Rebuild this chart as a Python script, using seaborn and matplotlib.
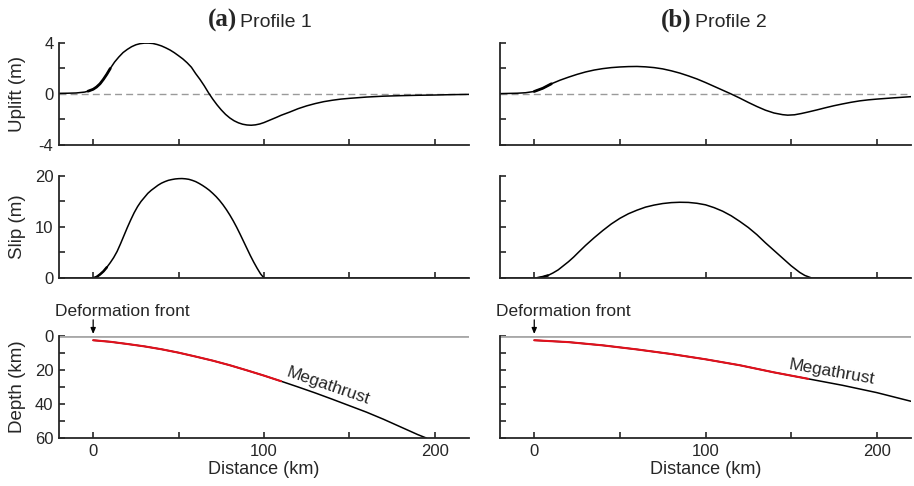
import numpy as np
import matplotlib
matplotlib.use("Agg")
import matplotlib.pyplot as plt
import seaborn as sns

# profile 1 (a)
up1_km = [-20, -15, -10, -5, -3, 0, 2, 4, 6, 8, 10, 12.5, 15, 17.5, 20, 22.5, 25, 27.5, 30, 32.5, 35,
          37.5, 40, 42.5, 45, 47.5, 50, 52.5, 55, 57.5, 60, 62.5, 65, 67.5, 70, 72.5, 75, 77.5, 80,
          82.5, 85, 87.5, 90, 92.5, 95, 97.5, 100, 102.5, 105, 107.5, 110, 115, 120, 125, 130, 135,
          140, 145, 150, 160, 170, 180, 190, 200, 210, 220]
up1_m = [0.05, 0.06, 0.08, 0.15, 0.22, 0.37, 0.55, 0.8, 1.15, 1.55, 2.0, 2.5, 2.9, 3.25, 3.5, 3.71,
         3.86, 3.95, 3.99, 3.99, 3.96, 3.88, 3.77, 3.62, 3.45, 3.24, 3.0, 2.75, 2.45, 2.1, 1.6, 1.15,
         0.65, 0.1, -0.4, -0.85, -1.25, -1.6, -1.88, -2.1, -2.26, -2.37, -2.43, -2.45, -2.42, -2.35,
         -2.24, -2.1, -1.96, -1.82, -1.67, -1.42, -1.15, -0.93, -0.75, -0.6, -0.49, -0.4, -0.34,
         -0.24, -0.17, -0.13, -0.1, -0.08, -0.05, -0.03]
slip1_km = [-20, 0.4, 2, 4, 6, 8, 10, 12, 14, 16, 18, 20, 22, 24, 26, 28, 30, 32, 34, 36, 38, 40, 42,
            44, 46, 48, 50, 52, 54, 56, 58, 60, 62, 64, 66, 68, 70, 72, 74, 76, 78, 80, 82, 84, 86,
            88, 90, 92, 94, 96, 98, 100, 220]
slip1_m = [0, 0, 0.2, 0.7, 1.3, 2.1, 3.0, 4.0, 5.2, 6.7, 8.3, 9.9, 11.4, 12.8, 14.0, 15.0, 15.8, 16.6,
           17.2, 17.7, 18.2, 18.6, 18.9, 19.15, 19.3, 19.42, 19.48, 19.5, 19.45, 19.35, 19.15, 18.9,
           18.55, 18.15, 17.7, 17.2, 16.6, 15.95, 15.2, 14.35, 13.4, 12.35, 11.2, 9.95, 8.6, 7.2,
           5.8, 4.4, 3.1, 1.9, 0.8, 0, 0]
fault1_km = [0, 10, 20, 30, 40, 50, 60, 70, 80, 90, 100, 110, 120, 130, 140, 150, 160, 170, 180, 190,
             195]
fault1_depth = [2.5, 3.4, 4.7, 6.1, 7.8, 9.8, 12.1, 14.5, 17.2, 20.2, 23.3, 26.6, 30.0, 33.5, 37.2,
                41.0, 44.8, 49.0, 53.5, 58.0, 60.0]
rupture1_end = 110

# profile 2 (b)
up2_km = [-20, -10, -5, 0, 5, 10, 15, 20, 25, 30, 35, 40, 45, 50, 55, 60, 65, 70, 75, 80, 85, 90, 95,
          100, 105, 110, 115, 120, 125, 130, 135, 140, 145, 148, 152, 156, 160, 165, 170, 175, 180,
          185, 190, 195, 200, 210, 220]
up2_m = [0.03, 0.06, 0.1, 0.2, 0.45, 0.8, 1.08, 1.32, 1.54, 1.73, 1.88, 1.99, 2.07, 2.12, 2.15, 2.16,
         2.13, 2.07, 1.97, 1.82, 1.64, 1.42, 1.18, 0.9, 0.6, 0.3, 0.0, -0.32, -0.66, -0.98, -1.27,
         -1.49, -1.62, -1.66, -1.63, -1.53, -1.41, -1.25, -1.08, -0.92, -0.78, -0.65, -0.54, -0.46,
         -0.4, -0.3, -0.21]
slip2_km = [-20, 2, 5, 8, 11, 14, 17, 20, 23, 26, 30, 35, 40, 45, 50, 55, 60, 65, 70, 75, 80, 85, 90,
            95, 100, 105, 110, 115, 120, 125, 130, 135, 140, 145, 150, 155, 158, 162, 220]
slip2_m = [0, 0, 0.2, 0.5, 1.0, 1.6, 2.4, 3.2, 4.1, 5.1, 6.4, 7.9, 9.3, 10.6, 11.7, 12.6, 13.3, 13.9,
           14.3, 14.6, 14.78, 14.85, 14.82, 14.65, 14.35, 13.8, 13.1, 12.2, 11.1, 9.9, 8.5, 6.9, 5.4,
           3.9, 2.4, 1.1, 0.5, 0, 0]
fault2_km = [0, 20, 40, 60, 80, 100, 120, 140, 160, 180, 200, 220]
fault2_depth = [2.5, 3.6, 5.5, 7.9, 10.6, 13.7, 17.2, 21.4, 25.2, 29.0, 33.3, 38.4]
rupture2_end = 172

profiles = [
    dict(tag="(a)", name="Profile 1", up=(up1_km, up1_m), slip=(slip1_km, slip1_m),
         fault=(fault1_km, fault1_depth), red_end=rupture1_end,
         label_xy=(137.5, 29.7), label_rot=-19, title_x=0.434),
    dict(tag="(b)", name="Profile 2", up=(up2_km, up2_m), slip=(slip2_km, slip2_m),
         fault=(fault2_km, fault2_depth), red_end=rupture2_end,
         label_xy=(173.5, 21.5), label_rot=-10, title_x=0.467),
]

sns.set_style("ticks")
plt.rcParams["font.family"] = ["Liberation Sans", "DejaVu Sans"]
plt.rcParams["axes.linewidth"] = 1.3

fig = plt.figure(figsize=(9.14, 4.86), dpi=100)
W, H = 914, 486
cols = [(59, 469), (500, 911)]
rows = [(43, 145), (176, 278), (336, 438)]


def make_ax(c, r):
    x0, x1 = cols[c]
    t, b = rows[r]
    return fig.add_axes([x0 / W, 1 - b / H, (x1 - x0) / W, (b - t) / H])


for c, p in enumerate(profiles):
    ax_up = make_ax(c, 0)
    ax_slip = make_ax(c, 1)
    ax_dep = make_ax(c, 2)

    # uplift
    ax_up.axhline(0, color="#9a9a9a", lw=1.0, ls=(0, (5, 3)))
    sns.lineplot(x=p["up"][0], y=p["up"][1], ax=ax_up, color="black", lw=1.1,
                 estimator=None, sort=False)
    ux = np.array(p["up"][0]); uy = np.array(p["up"][1])
    m = (ux >= -3) & (ux <= 10)
    ax_up.plot(ux[m], uy[m], color="black", lw=2.0)
    ax_up.set_ylim(-4, 4)
    ax_up.set_yticks([-4, -2, 0, 2, 4])
    ax_up.set_yticklabels(["-4", "", "0", "", "4"] if c == 0 else [""] * 5)

    # slip
    sns.lineplot(x=p["slip"][0], y=p["slip"][1], ax=ax_slip, color="black", lw=1.1,
                 estimator=None, sort=False)
    sx = np.array(p["slip"][0]); sy = np.array(p["slip"][1])
    m = (sx >= 0) & (sx <= 8)
    ax_slip.plot(sx[m], sy[m], color="black", lw=1.8)
    ax_slip.set_ylim(0, 20)
    ax_slip.set_yticks([0, 5, 10, 15, 20])
    ax_slip.set_yticklabels(["0", "", "10", "", "20"] if c == 0 else [""] * 5)

    # megathrust geometry
    ax_dep.axhline(0, color="#a8a8a8", lw=2.0, zorder=1)
    fx = np.array(p["fault"][0]); fy = np.array(p["fault"][1])
    sns.lineplot(x=fx, y=fy, ax=ax_dep, color="black", lw=1.1, estimator=None, sort=False)
    red = fx <= p["red_end"]
    ax_dep.plot(fx[red], fy[red], color="#e3101c", lw=1.5)
    ax_dep.set_ylim(60, 0)
    ax_dep.set_yticks([0, 10, 20, 30, 40, 50, 60])
    ax_dep.set_yticklabels(["0", "", "20", "", "40", "", "60"] if c == 0 else [""] * 7)
    ax_dep.text(p["label_xy"][0], p["label_xy"][1], "Megathrust", rotation=p["label_rot"],
                rotation_mode="anchor", ha="center", va="center", fontsize=12.5)
    ax_dep.text(17, -11.5, "Deformation front", ha="center", va="baseline", fontsize=12.5,
                clip_on=False)
    ax_dep.annotate("", xy=(0, -1.2), xytext=(0, -9.5),
                    arrowprops=dict(arrowstyle="-|>,head_length=0.35,head_width=0.15",
                                    color="black", lw=0.9, shrinkA=0, shrinkB=0),
                    annotation_clip=False)
    ax_dep.set_xlabel("Distance (km)", fontsize=13, labelpad=2)

    for ax in (ax_up, ax_slip, ax_dep):
        ax.set_xlim(-20, 220)
        ax.set_xticks([0, 50, 100, 150, 200])
        ax.tick_params(direction="in", length=4, width=1.2, labelsize=12, pad=4)
        sns.despine(ax=ax)
        if ax is not ax_dep:
            ax.set_xlabel("")
            ax.set_xticklabels([""] * 5)
        else:
            ax.set_xticklabels(["0", "", "100", "", "200"])
        ax.set_ylabel("")

    if c == 0:
        for ax, lab in ((ax_up, "Uplift (m)"), (ax_slip, "Slip (m)"), (ax_dep, "Depth (km)")):
            ax.set_ylabel(lab, fontsize=13.5)
            ax.yaxis.set_label_coords(-0.08, 0.5)

    ax_up.text(p["title_x"], 1.16, p["tag"], transform=ax_up.transAxes, ha="right",
               va="baseline", fontfamily="Liberation Serif", fontweight="bold", fontsize=18)
    ax_up.text(p["title_x"] + 0.008, 1.16, p["name"], transform=ax_up.transAxes, ha="left",
               va="baseline", fontsize=14)

fig.savefig("out.png", dpi=100)
